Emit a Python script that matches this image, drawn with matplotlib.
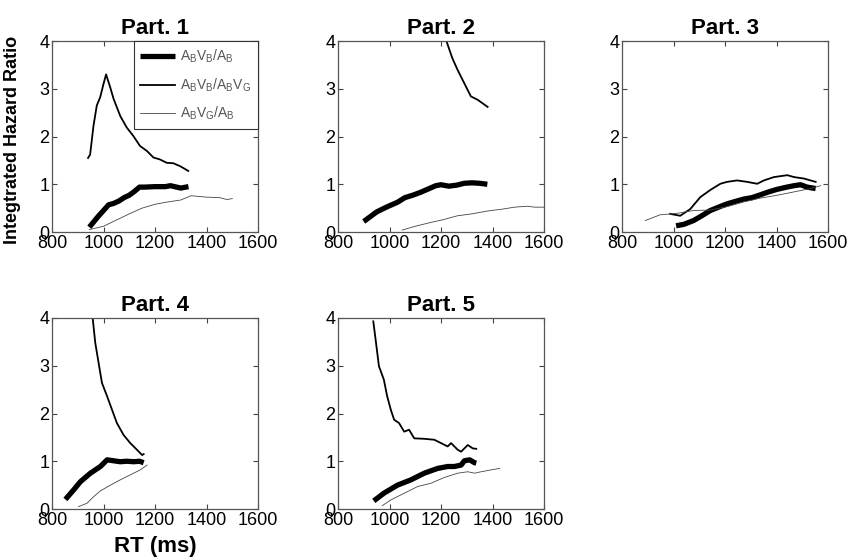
import matplotlib
matplotlib.use("Agg")
import matplotlib.pyplot as plt

plt.rcParams['font.family'] = ['Liberation Sans', 'DejaVu Sans']

titles = ["Part. 1", "Part. 2", "Part. 3", "Part. 4", "Part. 5"]
labels = [r"$\mathregular{A_BV_B/A_B}$", r"$\mathregular{A_BV_B/A_BV_G}$", r"$\mathregular{A_BV_G/A_B}$"]
xticks = [800, 1000, 1200, 1400, 1600]
yticks = [0, 1, 2, 3, 4]

# Part 1
p1_thick_x = [945, 960, 980, 1000, 1020, 1040, 1060, 1080, 1100, 1120, 1140, 1160, 1200, 1240, 1260, 1300, 1330]
p1_thick_y = [0.10, 0.20, 0.33, 0.45, 0.57, 0.60, 0.65, 0.72, 0.77, 0.85, 0.94, 0.94, 0.95, 0.95, 0.97, 0.92, 0.95]
p1_med_x = [940, 948, 961, 974, 987, 1000, 1010, 1025, 1039, 1065, 1090, 1116, 1142, 1168, 1194, 1219, 1245, 1271, 1297, 1329]
p1_med_y = [1.55, 1.62, 2.22, 2.65, 2.82, 3.10, 3.30, 3.05, 2.79, 2.43, 2.19, 2.01, 1.80, 1.70, 1.56, 1.52, 1.45, 1.44, 1.38, 1.28]
p1_thin_x = [945, 1000, 1050, 1100, 1150, 1200, 1250, 1300, 1340, 1400, 1450, 1480, 1500]
p1_thin_y = [0.05, 0.12, 0.25, 0.38, 0.50, 0.58, 0.63, 0.67, 0.76, 0.73, 0.72, 0.68, 0.70]

# Part 2
p2_thick_x = [900, 920, 950, 980, 1000, 1030, 1060, 1090, 1120, 1150, 1180, 1200, 1230, 1260, 1290, 1320, 1350, 1380]
p2_thick_y = [0.22, 0.30, 0.42, 0.50, 0.55, 0.62, 0.72, 0.77, 0.83, 0.90, 0.97, 0.99, 0.96, 0.98, 1.02, 1.03, 1.02, 1.00]
p2_med_x = [1215, 1221, 1244, 1264, 1290, 1316, 1342, 1381]
p2_med_y = [4.10, 4.00, 3.64, 3.40, 3.12, 2.84, 2.77, 2.62]
p2_thin_x = [1049, 1100, 1160, 1210, 1264, 1320, 1381, 1440, 1485, 1537, 1563, 1600]
p2_thin_y = [0.04, 0.12, 0.20, 0.26, 0.34, 0.38, 0.44, 0.48, 0.52, 0.54, 0.52, 0.52]

# Part 3
p3_thick_x = [1010, 1040, 1078, 1110, 1143, 1175, 1208, 1240, 1273, 1305, 1338, 1364, 1400, 1440, 1468, 1493, 1519, 1552]
p3_thick_y = [0.13, 0.16, 0.24, 0.34, 0.45, 0.52, 0.59, 0.64, 0.69, 0.72, 0.78, 0.83, 0.89, 0.94, 0.97, 0.99, 0.94, 0.91]
p3_med_x = [987, 1026, 1065, 1104, 1143, 1182, 1208, 1247, 1286, 1325, 1351, 1390, 1442, 1468, 1506, 1552]
p3_med_y = [0.38, 0.34, 0.48, 0.73, 0.88, 1.01, 1.05, 1.08, 1.05, 1.01, 1.08, 1.15, 1.19, 1.15, 1.12, 1.05]
p3_thin_x = [890, 948, 1013, 1078, 1143, 1208, 1273, 1338, 1403, 1468, 1532, 1571]
p3_thin_y = [0.24, 0.36, 0.39, 0.45, 0.46, 0.53, 0.63, 0.71, 0.77, 0.84, 0.91, 0.97]

# Part 4
p4_thick_x = [852, 868, 884, 910, 949, 988, 1014, 1039, 1065, 1090, 1117, 1140, 1156]
p4_thick_y = [0.20, 0.30, 0.40, 0.57, 0.75, 0.89, 1.03, 1.01, 0.99, 1.00, 0.99, 1.00, 0.97]
p4_med_x = [957, 968, 981, 994, 1014, 1033, 1052, 1078, 1104, 1130, 1150, 1156]
p4_med_y = [4.05, 3.48, 3.06, 2.64, 2.36, 2.08, 1.80, 1.55, 1.38, 1.24, 1.13, 1.15]
p4_thin_x = [903, 936, 962, 988, 1027, 1065, 1117, 1143, 1169]
p4_thin_y = [0.05, 0.12, 0.26, 0.38, 0.50, 0.61, 0.75, 0.82, 0.92]

# Part 5
p5_thick_x = [939, 978, 1031, 1083, 1135, 1187, 1226, 1252, 1278, 1291, 1311, 1330, 1337]
p5_thick_y = [0.17, 0.33, 0.50, 0.61, 0.75, 0.85, 0.89, 0.89, 0.92, 1.01, 1.03, 0.97, 0.96]
p5_med_x = [937, 946, 959, 978, 991, 1005, 1018, 1037, 1057, 1076, 1096, 1135, 1174, 1200, 1226, 1239, 1265, 1278, 1304, 1323, 1337]
p5_med_y = [3.93, 3.55, 2.99, 2.71, 2.36, 2.08, 1.87, 1.80, 1.62, 1.66, 1.48, 1.47, 1.45, 1.38, 1.31, 1.38, 1.24, 1.20, 1.34, 1.27, 1.26]
p5_thin_x = [972, 1005, 1057, 1109, 1161, 1213, 1265, 1304, 1330, 1356, 1395, 1428]
p5_thin_y = [0.07, 0.19, 0.33, 0.47, 0.54, 0.66, 0.75, 0.78, 0.75, 0.78, 0.82, 0.85]

panels = [
    (p1_thick_x, p1_thick_y, p1_med_x, p1_med_y, p1_thin_x, p1_thin_y),
    (p2_thick_x, p2_thick_y, p2_med_x, p2_med_y, p2_thin_x, p2_thin_y),
    (p3_thick_x, p3_thick_y, p3_med_x, p3_med_y, p3_thin_x, p3_thin_y),
    (p4_thick_x, p4_thick_y, p4_med_x, p4_med_y, p4_thin_x, p4_thin_y),
    (p5_thick_x, p5_thick_y, p5_med_x, p5_med_y, p5_thin_x, p5_thin_y),
]

W, H = 848, 559
fig = plt.figure(figsize=(W / 100, H / 100), dpi=100)

boxes_px = [(52, 41), (338, 41), (622, 41), (52, 318), (338, 318)]
aw, ah = 206, 191

axes = []
for i, (left, top) in enumerate(boxes_px):
    ax = fig.add_axes([left / W, 1 - (top + ah) / H, aw / W, ah / H])
    tx, ty, mx, my, nx, ny = panels[i]
    ax.plot(tx, ty, color='black', lw=3.8, solid_capstyle='butt', label=labels[0])
    ax.plot(mx, my, color='black', lw=1.3, label=labels[1])
    ax.plot(nx, ny, color='#444444', lw=0.6, label=labels[2])
    ax.set_xlim(800, 1600)
    ax.set_ylim(0, 4)
    ax.set_xticks(xticks)
    ax.set_yticks(yticks)
    ax.tick_params(direction='in', top=True, right=True, length=3.5, width=0.8,
                   labelsize=13, colors='#444444', labelcolor='black')
    ax.tick_params(axis='x', pad=2)
    ax.tick_params(axis='y', pad=2)
    for s in ax.spines.values():
        s.set_color('#555555')
        s.set_linewidth(0.9)
    ax.set_title(titles[i], fontsize=16, fontweight='bold', pad=5)
    axes.append(ax)

leg = axes[0].legend(loc='upper right', borderaxespad=0, fancybox=False, framealpha=1,
                     edgecolor='#333333', fontsize=10, handlelength=2.5, handletextpad=0.35,
                     labelspacing=0.8, borderpad=0.5)
leg.get_frame().set_linewidth(0.8)
for t in leg.get_texts():
    t.set_color('#555555')

axes[0].set_ylabel("Integtrated Hazard Ratio", fontsize=13, fontweight='bold')
axes[0].yaxis.set_label_coords(-0.15, 0.48)
axes[3].set_xlabel("RT (ms)", fontsize=16, fontweight='bold')
axes[3].xaxis.set_label_coords(0.5, -0.14)

fig.savefig("out.png", dpi=100)
